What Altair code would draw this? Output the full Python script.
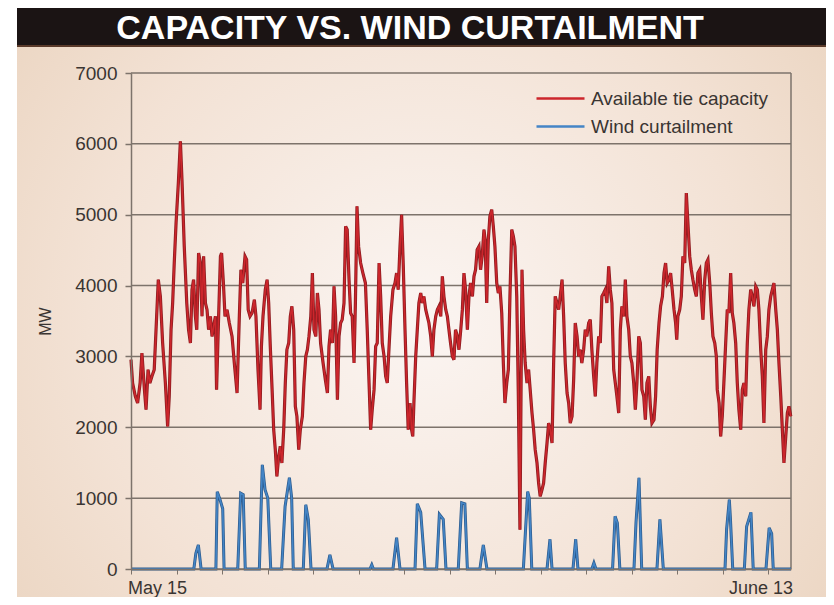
import altair as alt
import pandas as pd

# ---- data (x = days after May 15, y = MW) ----
cap_day = [0.00, 0.07, 0.19, 0.29, 0.40, 0.48, 0.59, 0.66, 0.75, 0.83, 0.92, 1.02, 1.10, 1.20, 1.29, 1.39, 1.51, 1.61, 1.68, 1.76,
           1.83, 1.90, 1.98, 2.08, 2.17, 2.24, 2.34, 2.45, 2.53, 2.61, 2.68, 2.75, 2.83, 2.89, 2.97, 3.05, 3.12, 3.19, 3.27, 3.34,
           3.41, 3.49, 3.56, 3.63, 3.71, 3.76, 3.85, 3.93, 3.98, 4.06, 4.13, 4.22, 4.32, 4.44, 4.54, 4.66, 4.76, 4.83, 4.91, 5.01,
           5.08, 5.15, 5.23, 5.32, 5.42, 5.49, 5.58, 5.67,
           5.73, 5.80, 5.90, 5.98, 6.05, 6.12, 6.20, 6.27, 6.34, 6.41, 6.49, 6.56, 6.63, 6.71, 6.78, 6.85, 6.93, 7.00, 7.07, 7.15,
           7.22, 7.29, 7.37, 7.44, 7.53, 7.60, 7.68, 7.75, 7.82, 7.90, 7.97, 8.04, 8.12, 8.19, 8.26, 8.33, 8.44, 8.54, 8.63, 8.70,
           8.77, 8.85, 8.92, 8.99, 9.07, 9.14, 9.21, 9.28, 9.36, 9.43, 9.50, 9.58, 9.65, 9.72, 9.80, 9.86, 9.93, 10.00, 10.09, 10.19,
           10.30, 10.38, 10.46, 10.53, 10.60, 10.68, 10.75, 10.82, 10.90, 10.97, 11.04, 11.12, 11.19, 11.26, 11.34, 11.41, 11.51,
           11.60, 11.67, 11.74, 11.82, 11.89, 11.96, 12.04, 12.11, 12.18, 12.26, 12.33, 12.38, 12.43, 12.51, 12.58, 12.65, 12.73,
           12.80, 12.87, 12.95, 13.02, 13.09, 13.17, 13.24, 13.31, 13.39, 13.46, 13.53, 13.61, 13.68, 13.75, 13.83, 13.90, 13.97,
           14.04, 14.12, 14.19, 14.26, 14.34, 14.41, 14.49, 14.56, 14.63, 14.70, 14.78, 14.85, 14.92, 15.00, 15.07, 15.14, 15.21,
           15.29, 15.36, 15.43, 15.51, 15.56, 15.63, 15.70, 15.77, 15.85, 15.92, 15.99, 16.07, 16.14, 16.21, 16.29, 16.36, 16.43,
           16.51, 16.58, 16.65, 16.73, 16.80, 16.87, 16.95, 17.02, 17.09,
           17.18, 17.25, 17.32, 17.40, 17.47, 17.54, 17.62, 17.69, 17.76, 17.84, 17.91, 17.98, 18.06, 18.13, 18.20, 18.28, 18.35,
           18.42, 18.50, 18.57, 18.64, 18.72, 18.79, 18.86, 18.94, 19.01, 19.08, 19.16, 19.23, 19.30, 19.38, 19.45, 19.52, 19.60,
           19.67, 19.74, 19.81, 19.89, 19.96, 20.03, 20.11, 20.18, 20.25, 20.33, 20.40, 20.47, 20.55, 20.62, 20.69, 20.77, 20.84,
           20.91, 20.99, 21.06, 21.13, 21.21, 21.28, 21.35, 21.43, 21.50, 21.57, 21.65, 21.72, 21.79, 21.87, 21.94, 22.01, 22.09,
           22.16, 22.23, 22.31, 22.38, 22.45, 22.53, 22.60, 22.67, 22.75, 22.82, 22.89,
           22.98, 23.05, 23.12, 23.20, 23.27, 23.35, 23.42, 23.49, 23.56, 23.64, 23.71, 23.78, 23.86, 23.93, 23.98, 24.03, 24.11,
           24.18, 24.25, 24.33, 24.40, 24.47, 24.55, 24.62, 24.69, 24.77, 24.84, 24.91, 24.99, 25.06, 25.13, 25.21, 25.28, 25.35,
           25.43, 25.50, 25.57, 25.65, 25.72, 25.76, 25.84, 25.91, 25.98, 26.05, 26.13, 26.20, 26.27, 26.35, 26.42, 26.49, 26.57,
           26.64, 26.71, 26.79, 26.86, 26.93, 27.01, 27.08, 27.15, 27.23, 27.30, 27.37, 27.45, 27.52, 27.59, 27.67, 27.74, 27.81,
           27.89, 27.96, 28.03, 28.11, 28.18, 28.25, 28.33, 28.40, 28.47, 28.55, 28.62, 28.69, 28.77, 28.84, 28.91, 28.99]
cap_mw = [2954, 2625, 2437, 2343, 2625, 3048, 2531, 2249, 2813, 2625, 2719, 2813, 3377, 4083, 3848, 3189, 2625, 2013, 2437, 3377,
          3754, 4318, 4883, 5447, 6035, 5494, 4553, 3754, 3377, 3189, 3942, 4083, 3566, 3377, 4459, 4318, 3566, 4412, 3754, 3660,
          3377, 3566, 3283, 3425, 3566, 2531, 3566, 4412, 4459, 4036, 3566, 3660, 3472, 3283, 2907, 2484, 3566, 4224, 4036, 4412,
          4365, 3660, 3566, 3613, 3801, 3566, 2813, 2249,
          3142, 3566, 3942, 4083, 3754, 3142, 2531, 1966, 1684, 1308, 1590, 1731, 1496, 1966, 2625, 3095, 3189, 3566, 3707, 3377,
          2296, 2155, 1684, 1966, 2155, 2625, 3001, 3095, 3283, 3566, 4177, 3377, 3283, 3895, 3660, 3189, 2907, 2672, 2484, 3142,
          3377, 3189, 3989, 3566, 2390, 3283, 3472, 3519, 3754, 4836, 4789, 4083, 3613, 3566, 2907, 3754, 5118, 4553, 4318, 4177,
          4036, 3377, 2625, 1966, 2249, 2531, 3142, 3189, 4318, 3848, 3189, 3001, 2719, 2625, 3142, 3566, 3942,
          4036, 4177, 3942, 4553, 5000, 4318, 3377, 2625, 1966, 2343, 1966, 1872, 2343, 3001, 3377, 3754, 3895,
          3754, 3848, 3660, 3566, 3472, 3283, 3001, 3377, 3566, 3660, 3707, 3566, 4130, 3848, 3660, 3566, 3377,
          3189, 3001, 2954, 3377, 3283, 3095, 3377, 3660, 4177, 3942, 3377, 3848, 4036, 3848, 4130, 4224, 4506,
          4553, 4224, 4412, 4789, 4647, 3754, 4647, 4977, 5071, 4836, 4553, 4036, 3895, 3989, 3613, 2907, 2343,
          2625, 2813, 3848, 4789, 4695, 4553, 3848, 2437, 555,
          4224, 3377, 2907, 2625, 2813, 2531, 2201, 1966, 1684, 1496, 1214, 1025, 1120, 1214, 1496, 1778, 2060,
          1966, 1778, 2907, 3848, 3754, 3660, 3848, 4083, 3566, 2907, 2484, 2343, 2060, 2155, 2672, 3472, 3283,
          3001, 3095, 2907, 3095, 3377, 3283, 3472, 3519, 3095, 2719, 2437, 2907, 3283, 3189, 3848, 3895, 3942,
          3754, 4271, 3942, 3754, 2813, 2625, 2437, 2201, 3377, 3707, 3566, 4083, 3566, 3377, 3001, 2907, 2625,
          2249, 2625, 3283, 3189, 2531, 2437, 2107, 2625, 2719, 2296, 2060,
          2107, 2437, 3095, 3472, 3707, 3848, 4177, 4318, 4036, 4083, 4177, 3942, 3660, 3472, 3236, 3566, 3660,
          3848, 4412, 4318, 5306, 4883, 4412, 4224, 4083, 3942, 3848, 4177, 4224, 3848, 3518, 4083, 4318, 4365,
          4036, 3613, 3283, 3189, 3001, 2531, 2343, 1872, 2155, 2625, 3189, 3660, 3613, 4177, 3613, 3472, 3189,
          2625, 2249, 1966, 2531, 2625, 2437, 3189, 3660, 3942, 3848, 3707, 3989, 3942, 3660, 3095, 2719, 2060,
          3095, 3283, 3660, 3848, 3942, 4036, 3660, 3377, 2907, 2437, 1966, 1496, 1872, 2201, 2296, 2155]

wind_day = [0.00, 2.76, 2.85, 2.96, 3.08, 3.73, 3.79, 3.91, 4.03, 4.09, 4.69, 4.82, 4.93, 5.02, 5.64, 5.77, 5.89, 6.01, 6.14,
            6.62, 6.77, 6.96, 7.06, 7.13, 7.57, 7.68, 7.79, 7.91, 8.61, 8.74, 8.88, 10.50, 10.58, 10.65, 11.51, 11.67, 11.82,
            12.48, 12.58, 12.73, 12.92, 13.43, 13.55, 13.72, 13.84, 14.38, 14.53, 14.67, 14.78, 15.33, 15.48, 15.64,
            17.24, 17.43, 17.50, 17.61, 18.28, 18.41, 18.50, 19.42, 19.54, 19.64, 20.25, 20.34, 20.43,
            21.16, 21.27, 21.37, 21.48, 22.10, 22.19, 22.32, 22.44, 23.11, 23.24, 23.39,
            26.10, 26.17, 26.29, 26.34, 26.44, 26.95, 27.05, 27.24, 27.34, 27.90, 28.04, 28.15, 28.22, 29.00]
wind_mw = [0, 0, 220, 340, 0, 0, 1090, 980, 850, 0, 0, 1070, 1050, 0, 0, 1470, 1118, 1000, 0,
           0, 883, 1288, 1000, 0, 0, 907, 700, 0, 0, 200, 0, 0, 60, 0, 0, 441, 0,
           0, 920, 800, 0, 0, 770, 700, 0, 0, 935, 920, 0, 0, 340, 0,
           0, 1094, 1000, 0, 0, 420, 0, 0, 420, 0, 0, 85, 0,
           0, 745, 650, 0, 0, 660, 1288, 0, 0, 700, 0,
           0, 560, 980, 700, 0, 0, 600, 800, 0, 0, 580, 500, 0, 0]

series_names = ["Available tie capacity", "Wind curtailment"]
series_colors = ["#cc262c", "#4485c6"]
series_edges = ["#8e1c20", "#2c5a8c"]
title_text = "CAPACITY VS. WIND CURTAILMENT"
y_ticks = [0, 1000, 2000, 3000, 4000, 5000, 6000, 7000]
day_ticks = list(range(30))
date_days = [0, 29]
date_labels = ["May 15", "June 13"]

cap_df = pd.DataFrame({"day": cap_day, "mw": cap_mw, "series": series_names[0]})
wind_df = pd.DataFrame({"day": wind_day, "mw": wind_mw, "series": series_names[1]})
df = pd.concat([cap_df, wind_df])
dates = pd.DataFrame({"day": date_days, "label": date_labels})

FONT = "Liberation Sans"
INK = "#3a3532"
GRID = "#7d736b"
x_scale = alt.Scale(domain=[0, 29], nice=False, zero=False)
y_scale = alt.Scale(domain=[0, 7000], nice=False)

x_enc = alt.X("day:Q", scale=x_scale,
              axis=alt.Axis(values=day_ticks, title=None, grid=False, labels=False,
                            tickSize=5, tickColor=GRID, domainColor=GRID, domainWidth=1.5, zindex=1))
y_enc = alt.Y("mw:Q", scale=y_scale,
              axis=alt.Axis(values=y_ticks, format="d", title="MW", grid=False, labelFont=FONT, labelFontSize=19,
                            labelColor=INK, labelPadding=8, tickSize=6, tickColor=GRID,
                            tickWidth=1.5, domainColor=GRID, domainWidth=1.5,
                            titleFont=FONT, titleFontSize=16, titleFontWeight="normal", titleColor=INK,
                            titleX=-86, titleY=248, titleAlign="center", titleBaseline="middle",
                            zindex=1))

one = alt.Data(values=[{}])

# backdrop with radial shading
backdrop = alt.Chart(one).mark_rect(
    color=alt.Gradient(
        gradient="radial",
        stops=[alt.GradientStop(color="#fbf5f2", offset=0),
               alt.GradientStop(color="#f3e2d5", offset=0.55),
               alt.GradientStop(color="#e7cfb8", offset=1)],
        x1=0.5, y1=0.5, r1=0, x2=0.5, y2=0.5, r2=0.75),
).encode(x=alt.value(-114), x2=alt.value(695), y=alt.value(-26), y2=alt.value(524))

band = alt.Chart(one).mark_rect(color="#1b1414").encode(
    x=alt.value(-114), x2=alt.value(695), y=alt.value(-65), y2=alt.value(-26))
band_edge = alt.Chart(one).mark_rect(color="#5a3a2a").encode(
    x=alt.value(-114), x2=alt.value(695), y=alt.value(-28), y2=alt.value(-26))

title = alt.Chart(one).mark_text(
    text=title_text, font=FONT, fontWeight="bold", fontSize=34, color="#ffffff",
    align="center", baseline="alphabetic",
).encode(x=alt.value(279), y=alt.value(-34))

grid = alt.Chart(pd.DataFrame({"v": y_ticks})).mark_rule(color=GRID, strokeWidth=1.5).encode(
    y=alt.Y("v:Q", scale=y_scale))

right_edge = alt.Chart(one).mark_rule(color=GRID, strokeWidth=1.5).encode(
    x=alt.datum(29, scale=x_scale))

under_cap = alt.Chart(cap_df).mark_line(strokeWidth=3.2, color=series_edges[0]).encode(x=x_enc, y=y_enc)
under_wind = alt.Chart(wind_df).mark_line(strokeWidth=3.0, color=series_edges[1]).encode(x=x_enc, y=y_enc)

lines = alt.Chart(df).mark_line(strokeWidth=1.6).encode(
    x=x_enc, y=y_enc,
    color=alt.Color("series:N", scale=alt.Scale(domain=series_names, range=series_colors),
                    legend=alt.Legend(orient="none", legendX=428, legendY=12, title=None,
                                      symbolType="M-3,0H1", symbolSize=576, symbolStrokeWidth=2.6,
                                      labelFont=FONT, labelFontSize=19, labelColor=INK,
                                      labelOffset=5, labelLimit=400, rowPadding=4, padding=0,
                                      symbolOffset=0)),
    detail="series:N",
)

date_first = alt.Chart(dates[dates["day"] == date_days[0]]).mark_text(
    font=FONT, fontSize=18, color=INK, align="left", baseline="alphabetic", dx=-3,
).encode(x=alt.X("day:Q", scale=x_scale), y=alt.value(521), text="label:N")
date_last = alt.Chart(dates[dates["day"] == date_days[1]]).mark_text(
    font=FONT, fontSize=18, color=INK, align="right", baseline="alphabetic", dx=2,
).encode(x=alt.X("day:Q", scale=x_scale), y=alt.value(521), text="label:N")

chart = alt.layer(backdrop, band, band_edge, title, grid, right_edge, under_cap, under_wind, lines,
                  date_first, date_last).properties(
    width=660, height=496,
    autosize=alt.AutoSizeParams(type="none"),
    padding={"left": 123, "top": 65, "right": 35, "bottom": 28},
    background="#ffffff",
).configure_view(stroke=None)

chart.save("out.html", embed_options={"renderer": "svg", "actions": False})
